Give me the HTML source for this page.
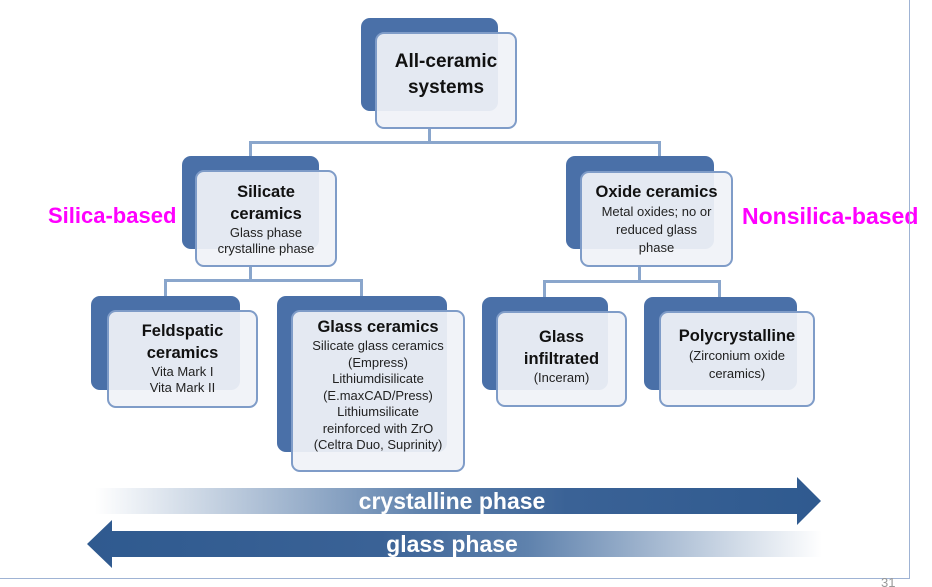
<!DOCTYPE html>
<html><head><style>
body{margin:0;width:932px;height:587px;background:#fff;position:relative;overflow:hidden;font-family:"Liberation Sans",sans-serif}
.b{position:absolute;background:#4a70a8;border-radius:9px}
.f{position:absolute;background:rgba(240,242,247,0.93);border:2.5px solid #7f9cc8;border-radius:9px;box-sizing:border-box;text-align:center;color:#111;display:flex;flex-direction:column;justify-content:center}
.t{font-weight:bold;font-size:16.5px;line-height:22px}
.s{font-size:13px;line-height:16px;color:#222}
.l{position:absolute;background:#8aa6cc}
.m{position:absolute;color:#ff00ff;font-weight:bold;font-size:22px}
</style></head><body>
<div class="l" style="left:428px;top:129px;width:3px;height:14px"></div>
<div class="l" style="left:249px;top:141px;width:412px;height:3px"></div>
<div class="l" style="left:249px;top:141px;width:3px;height:16px"></div>
<div class="l" style="left:658px;top:141px;width:3px;height:16px"></div>
<div class="l" style="left:249px;top:266px;width:3px;height:15px"></div>
<div class="l" style="left:164px;top:279px;width:199px;height:3px"></div>
<div class="l" style="left:164px;top:279px;width:3px;height:18px"></div>
<div class="l" style="left:360px;top:279px;width:3px;height:18px"></div>
<div class="l" style="left:638px;top:267px;width:3px;height:15px"></div>
<div class="l" style="left:543px;top:280px;width:178px;height:3px"></div>
<div class="l" style="left:543px;top:280px;width:3px;height:18px"></div>
<div class="l" style="left:718px;top:280px;width:3px;height:18px"></div>

<div class="b" style="left:361px;top:18px;width:137px;height:93px"></div>
<div class="f" style="left:375px;top:32px;width:142px;height:97px"><div class="t" style="font-size:19px;line-height:26px;margin-top:-12px">All-ceramic<br>systems</div></div>

<div class="b" style="left:182px;top:156px;width:137px;height:93px"></div>
<div class="f" style="left:195px;top:170px;width:142px;height:97px"><div class="t">Silicate<br>ceramics</div><div class="s">Glass phase<br>crystalline phase</div></div>

<div class="b" style="left:566px;top:156px;width:148px;height:93px"></div>
<div class="f" style="left:580px;top:171px;width:153px;height:96px;justify-content:flex-start;padding-top:8px"><div class="t">Oxide ceramics</div><div class="s" style="line-height:18px">Metal oxides; no or<br>reduced glass<br>phase</div></div>

<div class="b" style="left:91px;top:296px;width:149px;height:94px"></div>
<div class="f" style="left:107px;top:310px;width:151px;height:98px;justify-content:flex-start;padding-top:8px"><div class="t">Feldspatic<br>ceramics</div><div class="s">Vita Mark I<br>Vita Mark II</div></div>

<div class="b" style="left:277px;top:296px;width:170px;height:156px"></div>
<div class="f" style="left:291px;top:310px;width:174px;height:162px;justify-content:flex-start;padding-top:4px"><div class="t">Glass ceramics</div><div class="s" style="line-height:16.5px">Silicate glass ceramics<br>(Empress)<br>Lithiumdisilicate<br>(E.maxCAD/Press)<br>Lithiumsilicate<br>reinforced with ZrO<br>(Celtra Duo, Suprinity)</div></div>

<div class="b" style="left:482px;top:297px;width:126px;height:93px"></div>
<div class="f" style="left:496px;top:311px;width:131px;height:96px;padding-bottom:6px"><div class="t">Glass<br>infiltrated</div><div class="s">(Inceram)</div></div>

<div class="b" style="left:644px;top:297px;width:153px;height:93px"></div>
<div class="f" style="left:659px;top:311px;width:156px;height:96px;padding-bottom:10px"><div class="t">Polycrystalline</div><div class="s" style="line-height:18px">(Zirconium oxide<br>ceramics)</div></div>

<div class="m" style="left:48px;top:203px">Silica-based</div>
<div class="m" style="left:742px;top:203px;font-size:23px">Nonsilica-based</div>

<svg style="position:absolute;left:0;top:0" width="932" height="587">
<defs>
<linearGradient id="g1" x1="95" x2="821" gradientUnits="userSpaceOnUse"><stop offset="0" stop-color="#fff"/><stop offset="0.45" stop-color="#5f82ad"/><stop offset="0.65" stop-color="#3a6296"/><stop offset="1" stop-color="#2f5a8f"/></linearGradient>
<linearGradient id="g2" x1="87" x2="822" gradientUnits="userSpaceOnUse"><stop offset="0" stop-color="#2f5a8f"/><stop offset="0.4" stop-color="#3a6296"/><stop offset="0.6" stop-color="#5f82ad"/><stop offset="1" stop-color="#fff"/></linearGradient>
</defs>
<polygon points="95,488 797,488 797,477 821,501 797,525 797,514 95,514" fill="url(#g1)"/>
<polygon points="87,544 112,520 112,531 822,531 822,557 112,557 112,568" fill="url(#g2)"/>
<text x="452" y="509" text-anchor="middle" fill="#fff" font-family="Liberation Sans" font-weight="bold" font-size="23">crystalline phase</text>
<text x="452" y="552" text-anchor="middle" fill="#fff" font-family="Liberation Sans" font-weight="bold" font-size="23">glass phase</text>
<line x1="909.5" y1="0" x2="909.5" y2="578" stroke="#9fb3d4" stroke-width="1"/>
<line x1="0" y1="578.5" x2="910" y2="578.5" stroke="#9fb3d4" stroke-width="1"/>
<text x="881" y="587" fill="#999" font-family="Liberation Sans" font-size="13">31</text>
</svg>
</body></html>
